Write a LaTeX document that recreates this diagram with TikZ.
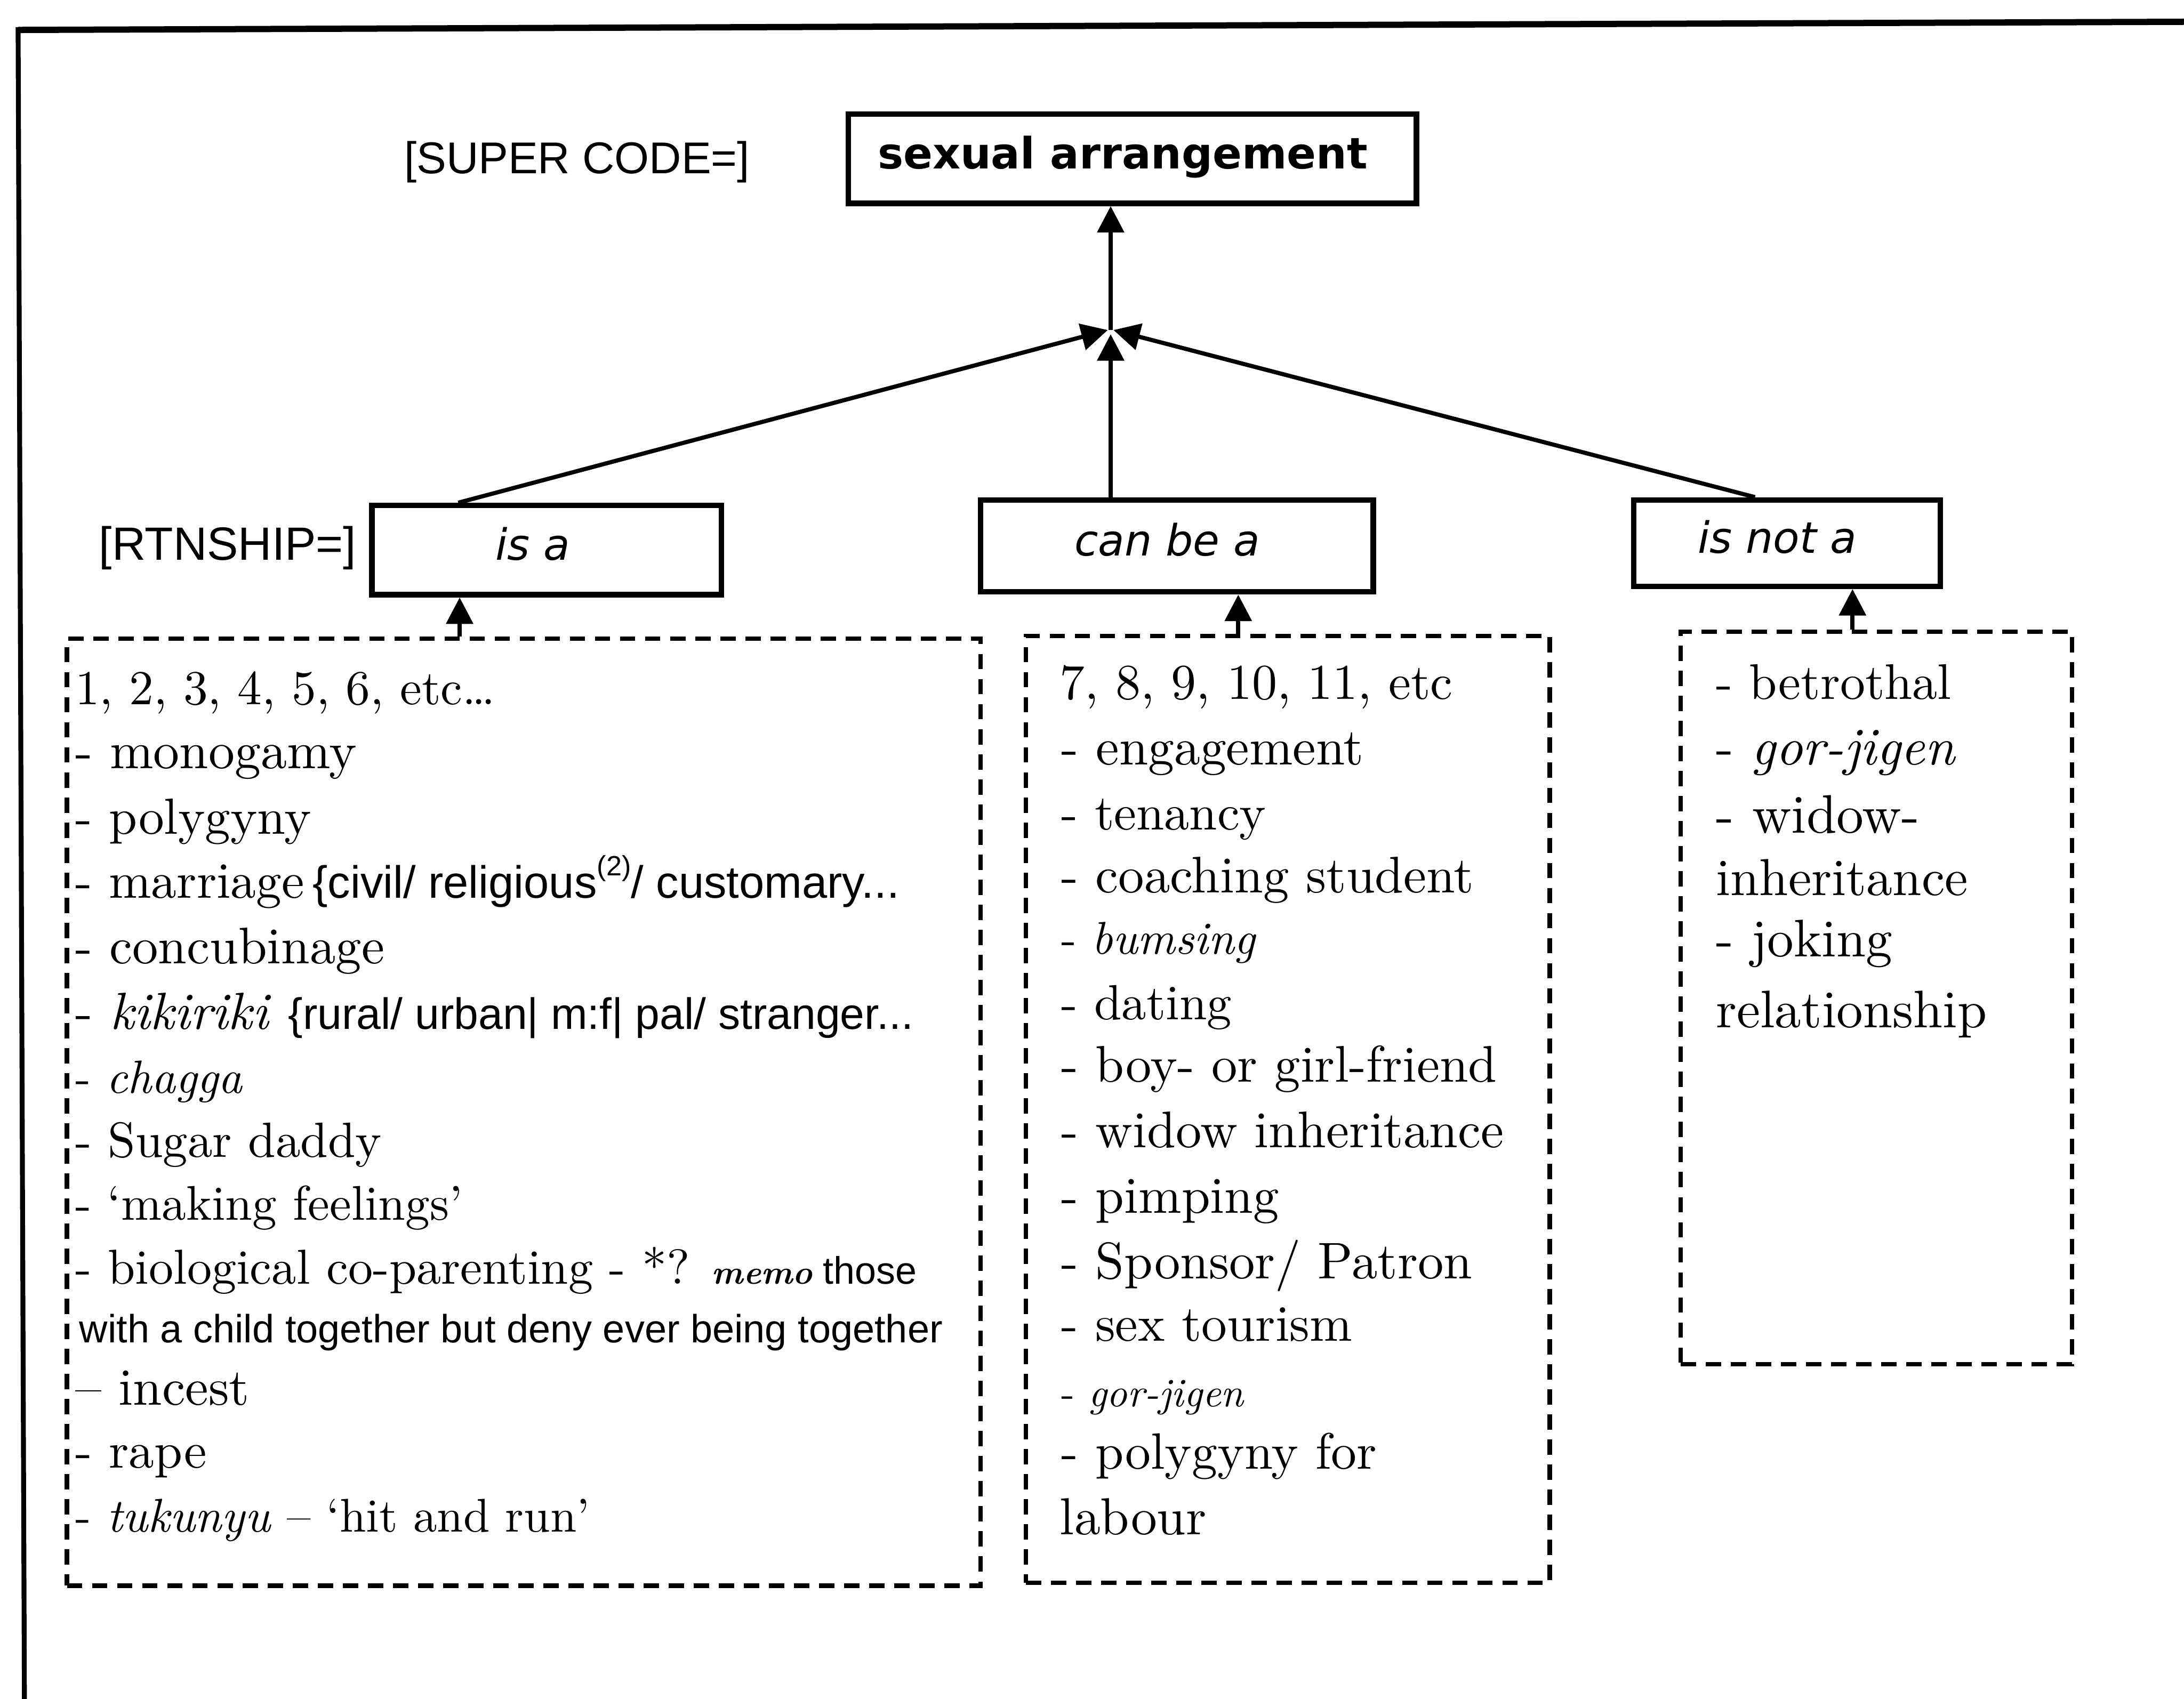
\documentclass[tikz,border=0pt]{standalone}
\usepackage{fontspec}
\setmainfont{lmroman10-regular.otf}[
  BoldFont=lmroman10-bold.otf,
  ItalicFont=lmroman10-italic.otf,
  BoldItalicFont=lmroman10-bolditalic.otf]
\usetikzlibrary{arrows.meta,calc}
\newfontfamily\lsans{Liberation Sans}
\newfontfamily\dvsans{DejaVu Sans}
\newcommand\fsz[1]{\fontsize{#1}{#1}\selectfont}
\tikzset{
  box/.style={draw, line width=4pt, inner sep=0pt, text height=20pt, text depth=6pt},
  dbox/.style={draw, line width=3.2pt, dash pattern=on 11pt off 7pt, inner sep=0pt, anchor=north west},
  txt/.style={anchor=base west, inner sep=0pt, outer sep=0pt},
  lbl/.style={anchor=base west, inner sep=0pt, font=\lsans\fsz{32}},
  arr/.style={line width=3pt, -{Triangle[length=19pt,width=19pt]}},
  outerframe/.style={line width=4pt},
}
\begin{document}
\begin{tikzpicture}[x=1pt,y=-1pt]
\useasboundingbox (0,0) rectangle (1568,1220);
\clip (0,0) rectangle (1568,1220);
% outer frame (open to the right and bottom)
\coordinate (fc) at (13,21.5);
\coordinate (fr) at (1580,15.6);
\coordinate (fb) at (17.6,1240);
\draw[outerframe, line width=4.5pt] (fc) -- (fr);
\draw[outerframe, line width=3.5pt] ([yshift=2pt]fc) -- (fb);

% top box and labels
\node[box, minimum width=408pt, minimum height=64pt, font=\dvsans\bfseries\fsz{31}] (sa) at (813,114) {sexual arrangement\hspace*{14pt}};
\node[lbl] (sc) at (290,124.7) {[SUPER CODE=]};
\node[lbl, font=\lsans\fsz{33.5}] (rt) at (71,402) {[RTNSHIP=]};

% relationship boxes
\node[box, minimum width=251pt, minimum height=64pt, font=\dvsans\itshape\fsz{31}] (isa) at (392.5,395) {is a\hspace*{20pt}};
\node[box, minimum width=282pt, minimum height=66pt, font=\dvsans\itshape\fsz{31}] (canbe) at (845,392) {can be a\hspace*{14pt}};
\node[box, minimum width=220pt, minimum height=62pt, font=\dvsans\itshape\fsz{31}] (isnot) at (1283,390) {is not a\hspace*{14pt}};

% dashed boxes
\node[dbox, minimum width=656pt, minimum height=680pt] (lbox) at (46.5,457) {};
\node[dbox, minimum width=376pt, minimum height=680pt] (mbox) at (735,455) {};
\node[dbox, minimum width=281pt, minimum height=526pt] (rbox) at (1205,452) {};

% connectors
\coordinate (j) at (797.4,237);
\coordinate (jl) at (795.3,237);
\coordinate (jr) at (799.4,237);
\coordinate (jm) at (797.4,240);
\draw[arr] (j) -- (j |- sa.south);
\draw[arr] ($(isa.north west)+(64,0)$) -- (jl);
\draw[arr] (j |- canbe.north) -- (jm);
\draw[arr] ($(isnot.north west)+(89,0)$) -- (jr);
\coordinate (x1) at (330,0);
\coordinate (x2) at (889,0);
\coordinate (x3) at (1330,0);
\draw[arr] (lbox.north -| x1) -- (isa.south -| x1);
\draw[arr] (mbox.north -| x2) -- (canbe.south -| x2);
\draw[arr] (rbox.north -| x3) -- (isnot.south -| x3);

% left list
\node[txt, font=\fsz{35}] (l1) at (54,506) {1, 2, 3, 4, 5, 6, etc…};
\node[txt, font=\fsz{37.5}] (l2) at (54,552) {- monogamy};
\node[txt, font=\fsz{36.5}] (l3) at (54,599) {- polygyny};
\node[txt, font=\fsz{36.5}] (l4) at (54,645) {- marriage\,{\lsans\fsz{32.5}\{civil/ religious\raisebox{0.5em}{\fsz{20}(2)}/ customary...}};
\node[txt, font=\fsz{37}] (l5) at (54,692) {- concubinage};
\node[txt, font=\fsz{37.5}] (l6) at (54,739) {- \textit{kikiriki} {\lsans\fsz{31.5}\{rural/ urban| m:f| pal/ stranger...}};
\node[txt, font=\fsz{33.5}] (l7) at (54,785) {- \textit{chagga}};
\node[txt, font=\fsz{35.5}] (l8) at (54,831) {- Sugar daddy};
\node[txt, font=\fsz{35}] (l9) at (54,876) {- ‘making feelings’};
\node[txt, font=\fsz{35.3}] (l10) at (54,922) {- biological co-parenting - *? {\bfseries\itshape\fsz{24}memo}{\lsans\fsz{27.5} those}};
\node[txt, font=\lsans\fsz{28.3}] (l11) at (57,964) {with a child together but deny ever being together};
\node[txt, font=\fsz{37.5}] (l12) at (54,1009) {– incest};
\node[txt, font=\fsz{36.5}] (l13) at (54,1054) {- rape};
\node[txt, font=\fsz{34}] (l14) at (54,1100) {- \textit{tukunyu} – ‘hit and run’};

% middle list
\node[txt, font=\fsz{36}] (m1) at (761,502) {7, 8, 9, 10, 11, etc};
\node[txt, font=\fsz{37.4}] (m2) at (762,549) {- engagement};
\node[txt, font=\fsz{36}] (m3) at (762,596) {- tenancy};
\node[txt, font=\fsz{37}] (m4) at (762,641) {- coaching student};
\node[txt, font=\fsz{33}] (m5) at (762,685) {- \textit{bumsing}};
\node[txt, font=\fsz{35.5}] (m6) at (762,732) {- dating};
\node[txt, font=\fsz{37}] (m7) at (762,777) {- boy- or girl-friend};
\node[txt, font=\fsz{37}] (m8) at (762,824) {- widow inheritance};
\node[txt, font=\fsz{37}] (m9) at (762,871) {- pimping};
\node[txt, font=\fsz{37}] (m10) at (762,918) {- Sponsor/ Patron};
\node[txt, font=\fsz{36.6}] (m11) at (762,963) {- sex tourism};
\node[txt, font=\fsz{29}] (m12) at (762,1010) {- \textit{gor-jigen}};
\node[txt, font=\fsz{36.7}] (m13) at (762,1055) {- polygyny for};
\node[txt, font=\fsz{37.4}] (m14) at (761,1102) {labour};

% right list
\node[txt, font=\fsz{36}] (r1) at (1232,502) {- betrothal};
\node[txt, font=\fsz{38}] (r2) at (1232,549) {- \textit{gor-jigen}};
\node[txt, font=\fsz{39}] (r3) at (1232,598) {- widow-};
\node[txt, font=\fsz{37.4}] (r4) at (1232,643) {inheritance};
\node[txt, font=\fsz{38}] (r5) at (1232,687) {- joking};
\node[txt, font=\fsz{38}] (r6) at (1232,738) {relationship};
\end{tikzpicture}
\end{document}
